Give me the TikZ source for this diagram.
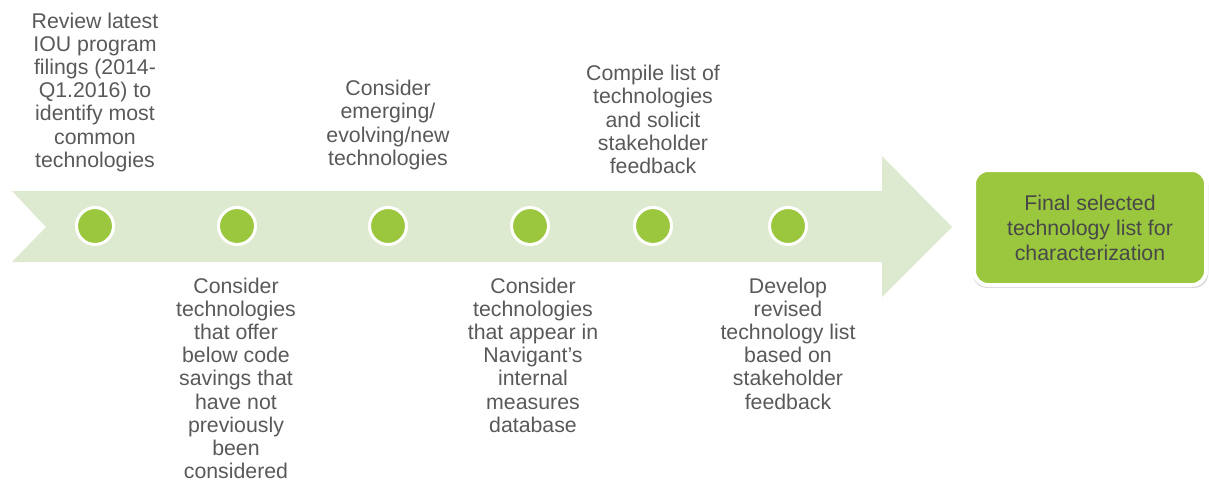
\documentclass[tikz,border=0pt]{standalone}
\usepackage{fontspec}
\setmainfont{Liberation Sans}
\usetikzlibrary{shadows}
\definecolor{bandgreen}{HTML}{DEEACF}
\definecolor{dotgreen}{HTML}{9AC73E}
\definecolor{textgray}{HTML}{595959}

\begin{document}
\begin{tikzpicture}[x=1pt,y=-1pt,
    stagetext/.style={align=center, inner sep=0pt, text=textgray,
        font=\fontsize{21.3}{23.2}\selectfont},
    dot/.style={circle, fill=dotgreen, draw=white, line width=3pt,
        minimum size=37pt, inner sep=0pt},
    finalbox/.style={rounded corners=14pt, fill=dotgreen, draw=white, line width=4pt,
        minimum width=232pt, minimum height=115pt, align=center, text=textgray!110,
        font=\fontsize{21.3}{25}\selectfont,
        drop shadow={shadow xshift=0.5pt, shadow yshift=-2pt, shadow scale=1.015,
            opacity=0.3}}]
    \useasboundingbox (0,0) rectangle (1209,485);

    % the band with its head
    \fill[bandgreen] (12,191) -- (882,191) -- (882,156) -- (952,227)
        -- (882,297) -- (882,262) -- (12,262) -- (46,227) -- cycle;

    \node[dot] (c1) at (95,226) {};
    \node[dot] (c2) at (237,226) {};
    \node[dot] (c3) at (388,226) {};
    \node[dot] (c4) at (530,226) {};
    \node[dot] (c5) at (653,226) {};
    \node[dot] (c6) at (788,226) {};

    \node[stagetext, anchor=south] (t1) at (95,172)
        {Review latest\\IOU program\\filings (2014-\\Q1.2016) to\\identify most\\common\\technologies};
    \node[stagetext, anchor=north] (t2) at (236,277.5)
        {Consider\\technologies\\that offer\\below code\\savings that\\have not\\previously\\been\\considered};
    \node[stagetext, anchor=south] (t3) at (388,170)
        {Consider\\emerging/\\evolving/new\\technologies};
    \node[stagetext, anchor=north] (t4) at (533,277.5)
        {Consider\\technologies\\that appear in\\Navigant’s\\internal\\measures\\database};
    \node[stagetext, anchor=south] (t5) at (653,174)
        {Compile list of\\technologies\\and solicit\\stakeholder\\feedback};
    \node[stagetext, anchor=north] (t6) at (788,277.5)
        {Develop\\revised\\technology list\\based on\\stakeholder\\feedback};

    \node[finalbox] (final) at (1090,227.5)
        {Final selected\\technology list for\\characterization};
\end{tikzpicture}
\end{document}
